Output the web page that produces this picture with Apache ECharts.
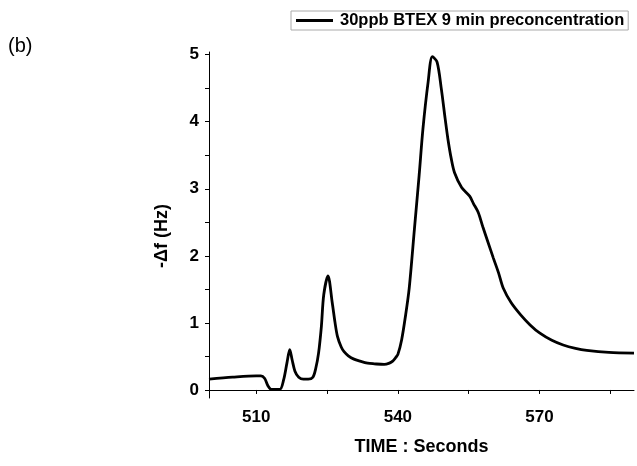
<!DOCTYPE html>
<html>
<head>
<meta charset="utf-8">
<script src="https://cdn.jsdelivr.net/npm/echarts@6/dist/echarts.min.js"></script>
<style>html,body{margin:0;padding:0;background:#fff}#c{width:637px;height:466px}</style>
</head>
<body>
<div id="c"></div>
<script>
const seriesName = '30ppb BTEX 9 min preconcentration';
const timeSec = [500,505,510,511,511.8,512.5,513.2,515,515.8,516.5,517.1,517.6,518.2,519,520,521,522,522.6,523.2,523.8,524.3,525.2,526.1,526.7,527.2,528,528.6,529.5,530.7,532,533.6,535,537.1,538.2,538.9,539.5,540,540.8,541.6,542.4,543.5,544.5,545.3,546.4,547.3,548.3,549.2,550,550.6,551.3,552,553.5,555.2,556,557,558,559.1,560.2,561.3,562.3,564,566,568,570,572.6,575,577.6,580,584.7,590];
const deltaF = [0.16,0.19,0.21,0.21,0.17,0.06,0.01,0.01,0.15,0.40,0.60,0.45,0.28,0.19,0.16,0.16,0.19,0.32,0.55,0.95,1.42,1.70,1.30,1.00,0.80,0.64,0.57,0.51,0.46,0.43,0.40,0.39,0.38,0.40,0.43,0.48,0.53,0.75,1.10,1.52,2.40,3.20,3.89,4.59,4.97,4.89,4.49,4.05,3.74,3.45,3.24,3.02,2.89,2.78,2.65,2.43,2.20,1.97,1.75,1.52,1.30,1.12,0.97,0.85,0.74,0.67,0.62,0.59,0.56,0.55];
const xTickValues = [510,525,540,555,570,585];
const xLabelValues = [510,540,570];
const yTickValues = [0,0.5,1,1.5,2,2.5,3,3.5,4,4.5,5];
const yLabelValues = [0,1,2,3,4,5];

const data = timeSec.map((t,i)=>[t,deltaF[i]]);
const chart = echarts.init(document.getElementById('c'));
const font = 'Liberation Sans, Arial, sans-serif';
chart.setOption({
  animation:false,
  backgroundColor:'#fff',
  grid:{left:209,right:3,top:52,bottom:68},
  legend:{
    left:291, top:11,
    data:[{name:seriesName, icon:'rect'}],
    itemWidth:37, itemHeight:3,
    borderColor:'#aaa', borderWidth:1,
    padding:[1,4,1,5],
    itemGap:0,
    textStyle:{fontFamily:font, fontWeight:'bold', fontSize:16.5, color:'#000', padding:[0,0,0,2]}
  },
  graphic:[{type:'text', left:8, top:36, style:{text:'(b)', font:'20px Liberation Sans, Arial, sans-serif', fill:'#000'}}],
  xAxis:{
    type:'value', min:500, max:590,
    name:'TIME : Seconds', nameLocation:'middle', nameGap:40,
    nameTextStyle:{fontFamily:font, fontWeight:'bold', fontSize:18, color:'#000'},
    axisLine:{lineStyle:{color:'#000', width:1}},
    axisTick:{customValues:xTickValues, length:4, lineStyle:{color:'#000'}},
    axisLabel:{customValues:xLabelValues, fontFamily:font, fontWeight:'bold', fontSize:17, color:'#000', margin:11},
    splitLine:{show:false}
  },
  yAxis:{
    type:'value', min:-0.12, max:5.04,
    name:'-\u0394f (Hz)', nameLocation:'middle', nameGap:38, nameRotate:90,
    nameTextStyle:{fontFamily:font, fontWeight:'bold', fontSize:18, color:'#000', padding:[0,22,0,0]},
    axisLine:{show:true, lineStyle:{color:'#000', width:1}},
    axisTick:{show:true, customValues:yTickValues, length:4, lineStyle:{color:'#000'}},
    axisLabel:{customValues:yLabelValues, fontFamily:font, fontWeight:'bold', fontSize:17, color:'#000', margin:10},
    splitLine:{show:false}
  },
  series:[{
    name:seriesName, type:'line', data:data, smooth:0.3, showSymbol:false, symbol:'none',
    lineStyle:{color:'#000', width:2.8}, itemStyle:{color:'#000'}
  }]
});
</script>
</body>
</html>
